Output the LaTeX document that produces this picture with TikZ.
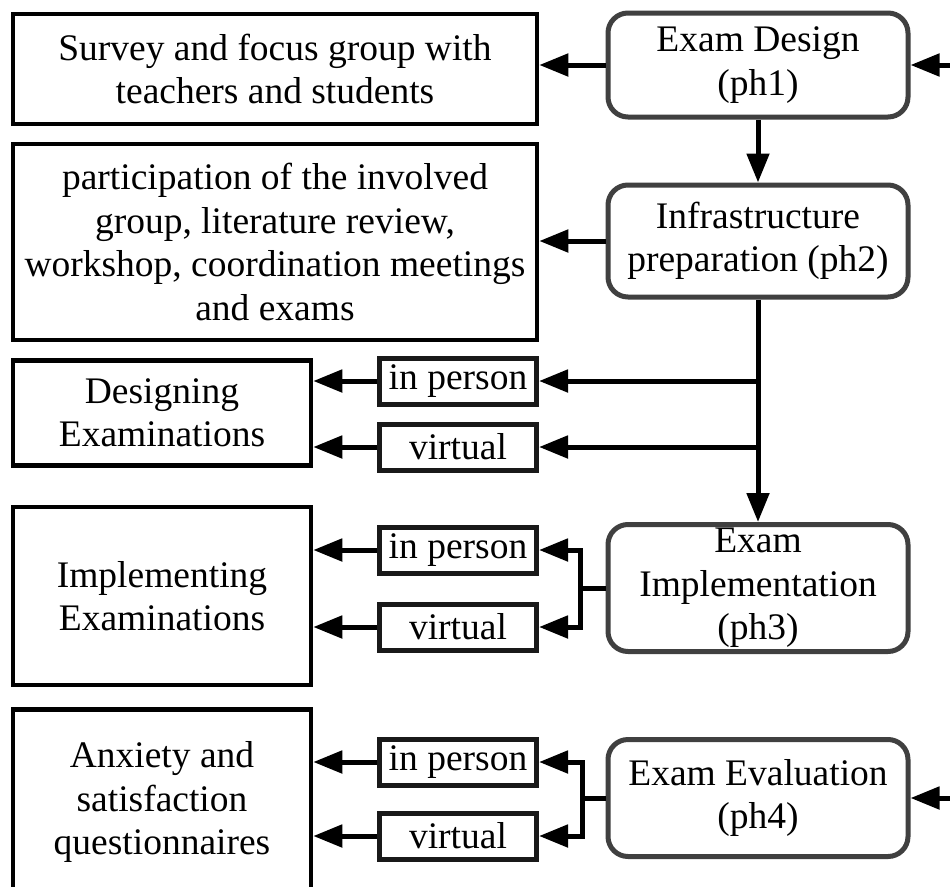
\documentclass[tikz,border=0pt]{standalone}
\usepackage{fontspec}
\setmainfont{Liberation Serif}
\usetikzlibrary{arrows.meta,calc}
\begin{document}
\begin{tikzpicture}[x=1pt,y=-1pt,
  txt/.style={font=\fontsize{37.5}{43.5}\selectfont, align=center, inner sep=0pt},
  leftbox/.style={txt, draw=black, line width=4.5pt, rectangle},
  phase/.style={txt, draw=black!75, line width=5pt, rectangle, rounded corners=20pt, minimum width=300pt},
  modebox/.style={txt, draw=black!90, line width=5pt, rectangle, minimum width=157pt, minimum height=46pt},
  conn/.style={line width=5pt, black},
  arr/.style={conn, -{Triangle[length=29pt,width=22pt]}}
]
\fill[white] (0,0) rectangle (950,886);
\useasboundingbox (0,0) rectangle (950,886);

% left boxes
\node[leftbox, minimum width=524pt, minimum height=110pt] (A) at (275,69) {Survey and focus group with\\teachers and students};
\node[leftbox, minimum width=524pt, minimum height=196pt] (B) at (275,242) {participation of the involved\\group, literature review,\\workshop, coordination meetings\\and exams};
\node[leftbox, minimum width=298pt, minimum height=105pt] (C) at (162,413) {Designing\\Examinations};
\node[leftbox, minimum width=298pt, minimum height=178pt] (D) at (162,596) {Implementing\\Examinations};
\node[leftbox, minimum width=298pt, minimum height=185pt] (E) at (162,802) {Anxiety and\\satisfaction\\questionnaires};

% phases
\node[phase, minimum height=104pt] (ph1) at (758,65) {Exam Design\\(ph1)};
\node[phase, minimum height=112pt] (ph2) at (758,241) {Infrastructure\\preparation (ph2)};
\node[phase, minimum height=127pt] (ph3) at (758,588) {Exam\\Implementation\\(ph3)};
\node[phase, minimum height=117pt] (ph4) at (758,798) {Exam Evaluation\\(ph4)};

% mode boxes
\node[modebox] (ip1) at (458,381) {in person};
\node[modebox] (v1) at (458,447) {virtual};
\node[modebox] (ip2) at (458,550) {in person};
\node[modebox] (v2) at (458,627) {virtual};
\node[modebox] (ip3) at (458,762) {in person};
\node[modebox] (v3) at (458,836) {virtual};

% incoming from the right edge
\coordinate (in1) at (960,65);
\coordinate (in4) at (960,798);
\draw[arr] (in1) -- (ph1.east);
\draw[arr] (in4) -- (ph4.east);

% phase to description
\draw[arr] (ph1.west) -- (ph1.west -| A.east);
\draw[arr] (ph2.west) -- (ph2.west -| B.east);

% main flow
\draw[arr] (ph1.south) -- (ph2.south |- ph2.north);
\draw[arr] (ph2.south) -- (ph3.north);
\draw[arr] (ph2.south |- ip1.east) -- (ip1.east);
\draw[arr] (ph2.south |- v1.east) -- (v1.east);

% brackets
\coordinate (br3) at ($(ph3.west)+(-25,0)$);
\draw[conn] (ph3.west) -- (br3);
\draw[arr] (br3) |- (ip2.east);
\draw[arr] (br3) |- (v2.east);
\coordinate (br4) at ($(ph4.west)+(-23,0)$);
\draw[conn] (ph4.west) -- (br4);
\draw[arr] (br4) |- (ip3.east);
\draw[arr] (br4) |- (v3.east);

% mode boxes to left boxes
\draw[arr] (ip1.west) -- (ip1.west -| C.east);
\draw[arr] (v1.west) -- (v1.west -| C.east);
\draw[arr] (ip2.west) -- (ip2.west -| D.east);
\draw[arr] (v2.west) -- (v2.west -| D.east);
\draw[arr] (ip3.west) -- (ip3.west -| E.east);
\draw[arr] (v3.west) -- (v3.west -| E.east);
\end{tikzpicture}
\end{document}
